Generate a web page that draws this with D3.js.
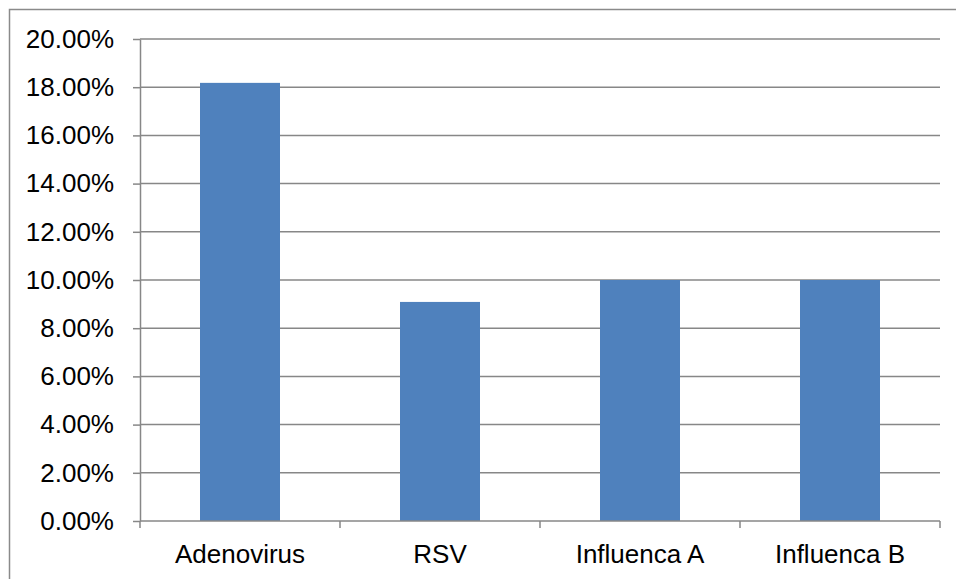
<!DOCTYPE html>
<html>
<head>
<meta charset="utf-8">
<script src="https://cdn.jsdelivr.net/npm/d3@7"></script>
<style>
  body { margin: 0; background: #fff; }
  svg { display: block; }
  text { font-family: "Liberation Sans", Arial, sans-serif; fill: #000; }
</style>
</head>
<body>
<svg width="956" height="579"></svg>
<script>
// data
var categories = ["Adenovirus", "RSV", "Influenca A", "Influenca B"];
var values = [0.1818, 0.0909, 0.10, 0.10];
var yTicks = [0, 0.02, 0.04, 0.06, 0.08, 0.10, 0.12, 0.14, 0.16, 0.18, 0.20];

var svg = d3.select("svg"),
    margin = {top: 39, right: 16, bottom: 58, left: 140},
    width = 956 - margin.left - margin.right,
    height = 579 - margin.top - margin.bottom;

var axisColor = "#878787";

// outer chart border (right and bottom sit outside the picture)
svg.append("rect")
   .attr("x", 9.5)
   .attr("y", 9.5)
   .attr("width", 960)
   .attr("height", 600)
   .attr("fill", "none")
   .attr("stroke", "#8a8a8a")
   .attr("stroke-width", 1.5);

var x = d3.scaleBand()
   .domain(categories)
   .range([0, width])
   .paddingInner(0.6)
   .paddingOuter(0.3);

var y = d3.scaleLinear()
   .domain([0, 0.2])
   .range([height, 0]);

var g = svg.append("g")
   .attr("transform", "translate(" + margin.left + "," + margin.top + ")");

// horizontal gridlines
g.append("g")
   .selectAll("line")
   .data(yTicks.filter(function(d) { return d > 0; }))
   .enter().append("line")
   .attr("x1", 0)
   .attr("x2", width)
   .attr("y1", function(d) { return y(d); })
   .attr("y2", function(d) { return y(d); })
   .attr("stroke", axisColor)
   .attr("stroke-width", 1.5);

// bars
g.append("g")
   .selectAll("rect")
   .data(values)
   .enter().append("rect")
   .attr("x", function(d, i) { return x(categories[i]); })
   .attr("y", function(d) { return y(d); })
   .attr("width", x.bandwidth())
   .attr("height", function(d) { return height - y(d); })
   .attr("fill", "#4F81BD");

// y axis
var yAxis = g.append("g")
   .call(d3.axisLeft(y)
      .tickValues(yTicks)
      .tickFormat(d3.format(".2%"))
      .tickSize(7)
      .tickSizeOuter(0)
      .tickPadding(19));
yAxis.select(".domain").attr("stroke", axisColor).attr("stroke-width", 1.5);
yAxis.selectAll(".tick line").attr("stroke", axisColor).attr("stroke-width", 1.5);
yAxis.selectAll("text")
   .style("font-size", "26px")
   .style("font-family", "'Liberation Sans', Arial, sans-serif")
   .attr("fill", "#000");

// x axis: line, ticks at category boundaries, labels centred in bands
var xAxis = g.append("g")
   .attr("transform", "translate(0," + height + ")");
xAxis.append("line")
   .attr("x1", 0)
   .attr("x2", width)
   .attr("stroke", axisColor)
   .attr("stroke-width", 1.5);

var bounds = categories.map(function(c) { return x(c) - (x.step() - x.bandwidth()) / 2; });
bounds.push(width);
xAxis.selectAll(".xtick")
   .data(bounds)
   .enter().append("line")
   .attr("class", "xtick")
   .attr("x1", function(d) { return d; })
   .attr("x2", function(d) { return d; })
   .attr("y1", 0)
   .attr("y2", 7)
   .attr("stroke", axisColor)
   .attr("stroke-width", 1.5);

xAxis.selectAll(".xlabel")
   .data(categories)
   .enter().append("text")
   .attr("class", "xlabel")
   .attr("x", function(d) { return x(d) + x.bandwidth() / 2; })
   .attr("y", 42)
   .attr("text-anchor", "middle")
   .style("font-size", "26px")
   .text(function(d) { return d; });
</script>
</body>
</html>
